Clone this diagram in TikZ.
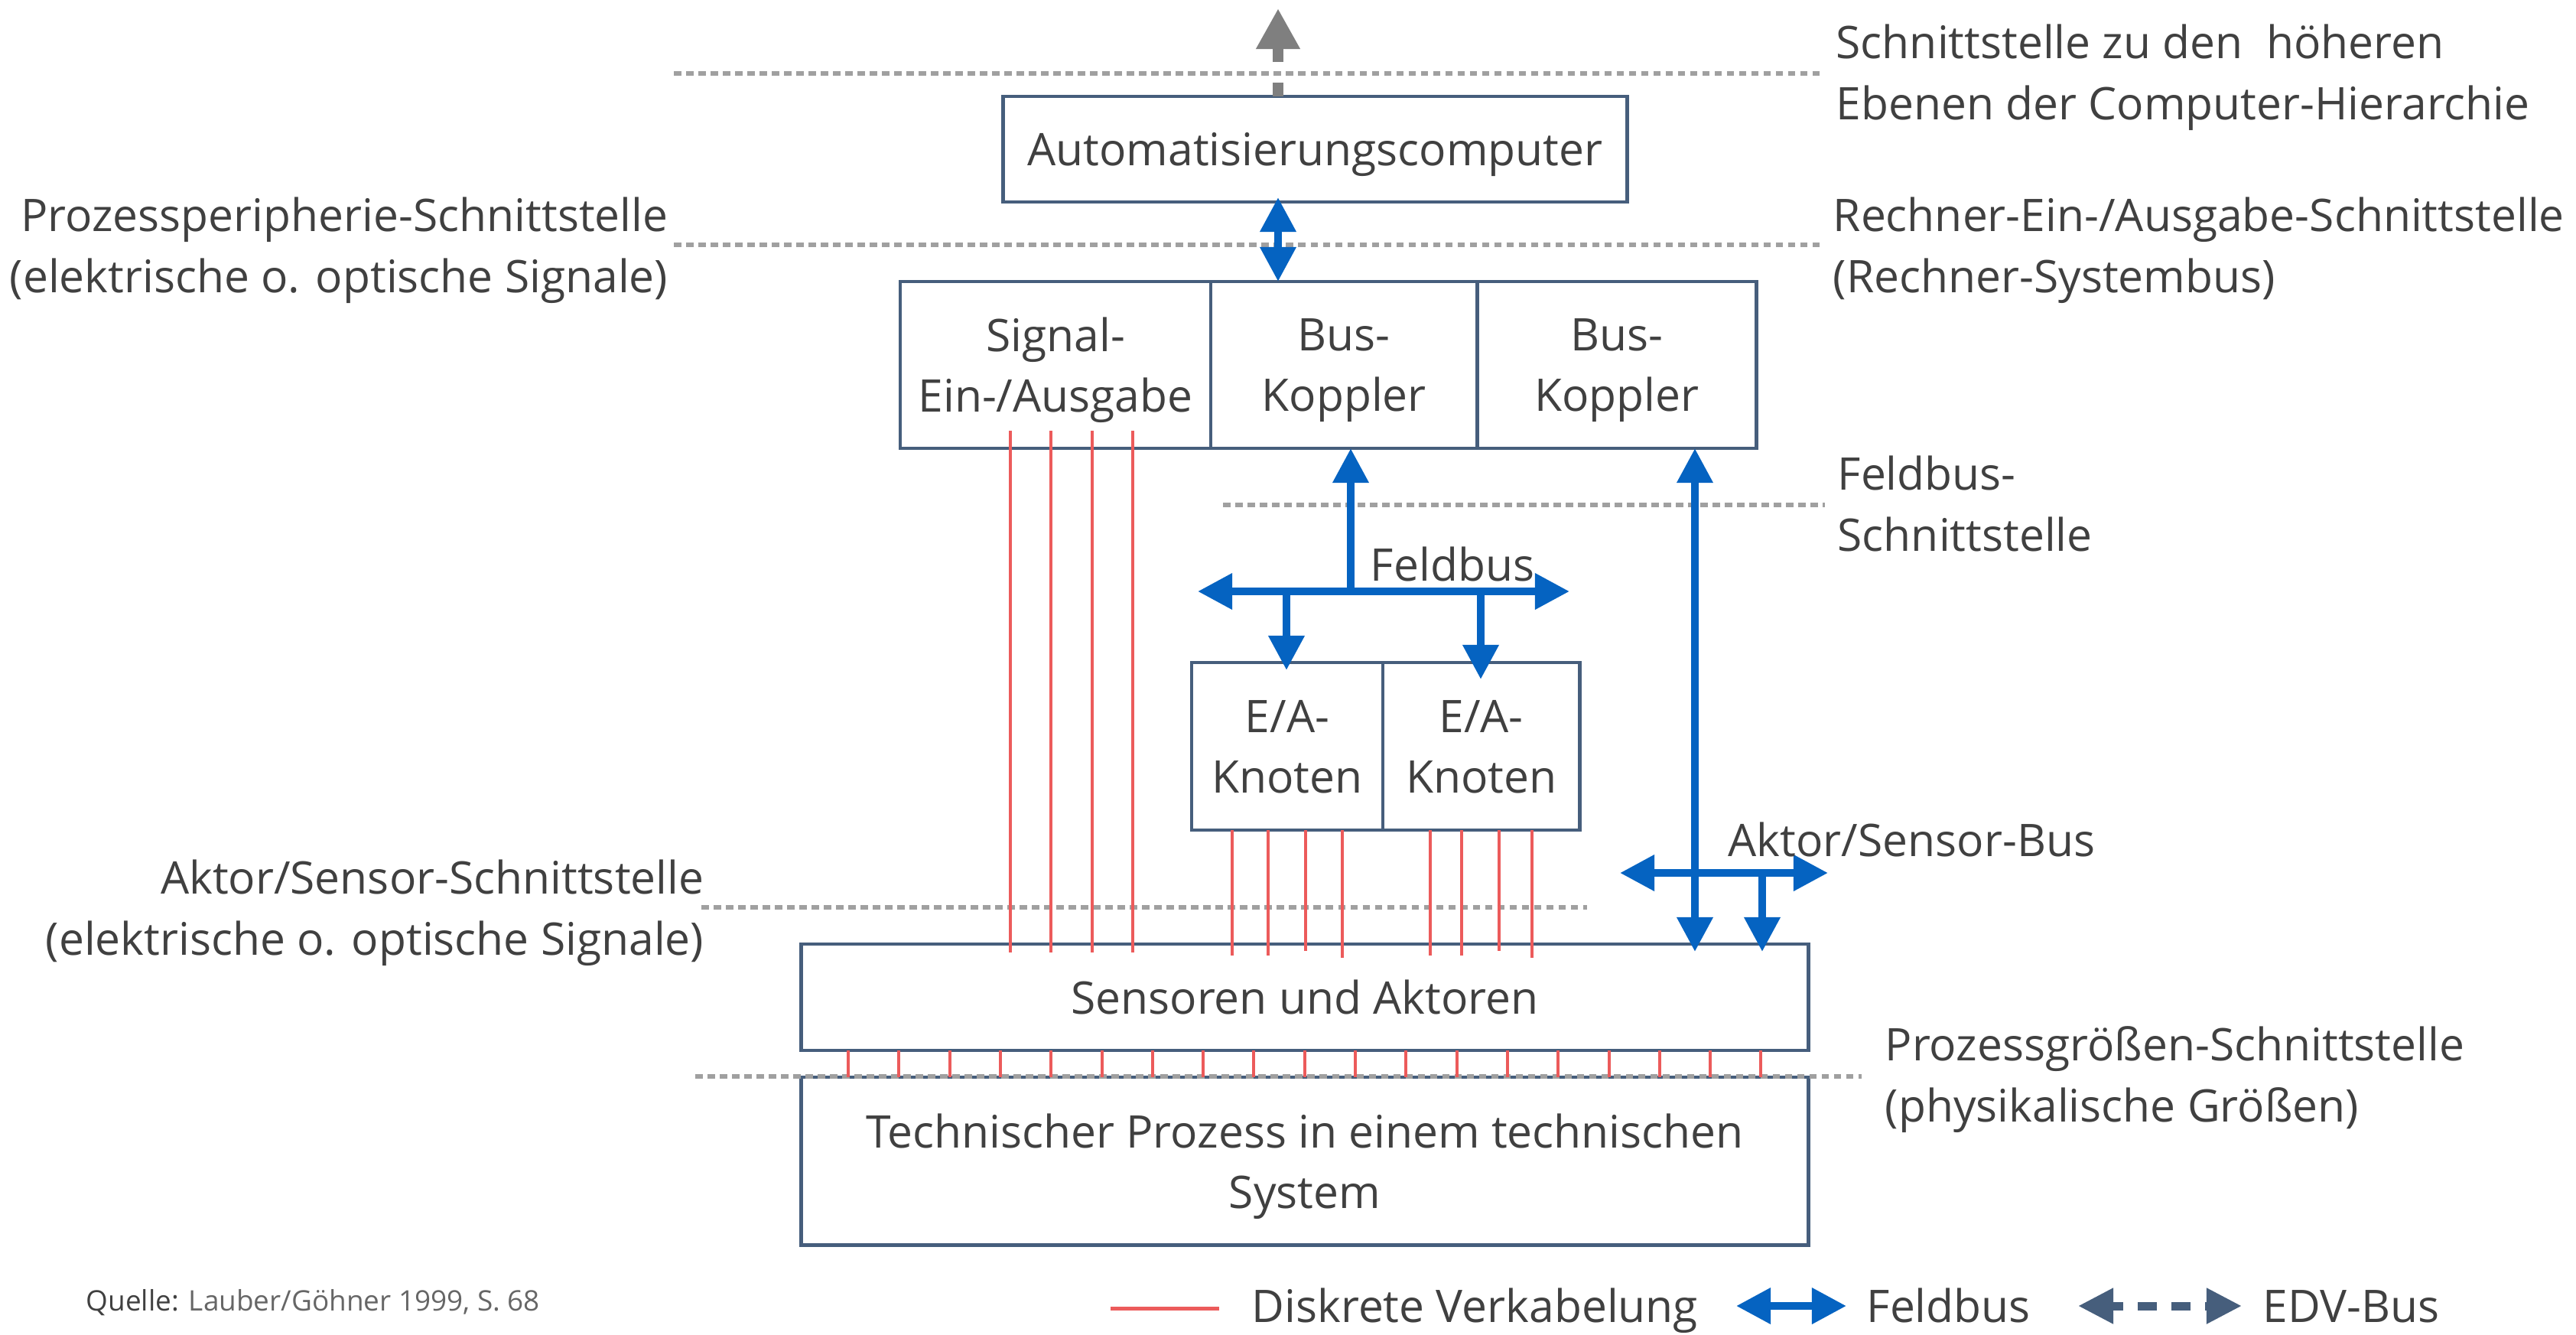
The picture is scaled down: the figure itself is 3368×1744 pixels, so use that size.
\documentclass[tikz,border=0pt]{standalone}
\usepackage{fontspec}
\setmainfont{Open Sans}
\usepackage{xcolor}
\usepackage{tikz}
\usetikzlibrary{positioning,calc,arrows.meta}
\definecolor{rahmen}{HTML}{465E7C}
\definecolor{busblau}{HTML}{0563C1}
\definecolor{kabelrot}{HTML}{EC5B5B}
\definecolor{punktgrau}{HTML}{A0A0A0}
\definecolor{edvgrau}{HTML}{7F7F7F}
\definecolor{schrift}{HTML}{404040}
\definecolor{quellgrau}{HTML}{666666}
\newcommand{\grossschrift}{\fontsize{16.7}{22.5}\selectfont}
\newcommand{\kleinschrift}{\fontsize{10.5}{13}\selectfont}
\tikzset{
  kasten/.style={draw=rahmen, line width=1.3pt, fill=white, text=schrift, font=\grossschrift, align=center, inner sep=0pt, outer sep=0pt, text depth=0pt},
  beschr/.style={text=schrift, font=\grossschrift, inner sep=0pt, align=left},
  ebene/.style={draw=punktgrau, line width=0.065cm, dash pattern=on 0.095cm off 0.065cm},
  kabel/.style={draw=kabelrot, line width=0.04cm},
  feldbus/.style={draw=busblau, line width=0.1cm, >={Triangle[length=0.45cm,width=0.45cm]}},
  edv/.style={draw=edvgrau, line width=0.14cm, >={Triangle[length=0.53cm,width=0.54cm]}, dash pattern=on 0.18cm off 0.27cm on 0.26cm off 0.27cm},
  edvlegende/.style={draw=rahmen, line width=0.11cm, >={Triangle[length=0.46cm,width=0.44cm]}, dash pattern=on 0.25cm off 0.19cm, dash phase=0.09cm}
}

\begin{document}
\begin{tikzpicture}[x=0.01cm, y=-0.01cm]
\useasboundingbox (0,0) rectangle (3368,1744);

% Kaesten
\node[kasten, minimum width=8.15cm, minimum height=1.38cm] (comp) at (1719.5,195) {Automatisierungscomputer};
\node[kasten, minimum width=4.06cm, minimum height=2.18cm] (sig) at (1380,477) {Signal-\\Ein-/Ausgabe};
\node[kasten, minimum width=3.48cm, minimum height=2.18cm, right=0cm of sig] (bk1) {Bus-\\Koppler};
\node[kasten, minimum width=3.65cm, minimum height=2.18cm, right=0cm of bk1] (bk2) {Bus-\\Koppler};
\node[kasten, minimum width=2.50cm, minimum height=2.19cm] (ea1) at (1683,975.5) {E/A-\\Knoten};
\node[kasten, minimum width=2.57cm, minimum height=2.19cm, right=0cm of ea1] (ea2) {E/A-\\Knoten};
\node[kasten, minimum width=13.16cm, minimum height=1.39cm] (sens) at (1706,1303.5) {Sensoren und Aktoren};
\node[kasten, minimum width=13.16cm, minimum height=2.19cm, below=0.35cm of sens] (proz) {Technischer Prozess in einem technischen\\System};

% Schnittstellen
\draw[ebene] (881,96) -- (2384,96);
\draw[ebene] (881,320) -- (2384,320);
\draw[ebene] (1599,660) -- (2386,660);
\draw[ebene] (917,1186) -- (2075,1186);
\draw[ebene] (909,1407) -- (2434,1407);

% diskrete Verkabelung
\foreach \x in {1321,1374,1428,1481}
  \draw[kabel] ($(\x,0 |- sig.south)+(0,-23)$) -- ($(\x,0 |- sens.north)+(0,11)$);
\foreach \x/\e in {1611/15,1658/15,1707/9,1755/18}
  \draw[kabel] (\x,0 |- ea1.south) -- ($(\x,0 |- sens.north)+(0,\e)$);
\foreach \x/\e in {1870/15,1911/15,1960/9,2003/18}
  \draw[kabel] (\x,0 |- ea2.south) -- ($(\x,0 |- sens.north)+(0,\e)$);
\foreach \i in {0,...,18}
  \draw[kabel] (1109+66.3*\i,0 |- sens.south) -- (1109+66.3*\i,0 |- proz.north);

% Busse
\coordinate (oben) at (1671,11);
\draw[edv,->] (oben |- comp.north) -- (oben);
\draw[feldbus,<->] ($(oben |- comp.south)+(0,-6)$) -- (oben |- sig.north);

\coordinate (fbl) at (1566,773);
\coordinate (fbr) at (2052,773);
\draw[feldbus,<->] (fbl) -- (fbr);
\draw[feldbus,->] (1766,0 |- fbl) -- (1766,0 |- bk1.south);
\draw[feldbus,->] (1682,0 |- fbl) -- ($(1682,0 |- ea1.north)+(0,10)$);
\draw[feldbus,->] (1936,0 |- fbl) -- ($(1936,0 |- ea2.north)+(0,22)$);

\coordinate (asl) at (2118,1141);
\coordinate (asr) at (2390,1141);
\draw[feldbus,<->] (asl) -- (asr);
\draw[feldbus,<->] (2216,0 |- bk2.south) -- ($(2216,0 |- sens.north)+(0,10)$);
\draw[feldbus,->] (2304,0 |- asl) -- ($(2304,0 |- sens.north)+(0,10)$);

\node[beschr, anchor=base] (fbtext) at (1899,759) {Feldbus};
\node[beschr, anchor=base west] (astext) at (2259,1119) {Aktor/Sensor-Bus};

% Beschriftung der Schnittstellen (base = letzte Zeile)
\node[beschr, anchor=base west] (hoeher) at (2400,156) {Schnittstelle zu den \ höheren\\Ebenen der Computer-Hierarchie};
\node[beschr, anchor=base west] (rechner) at (2396,382) {Rechner-Ein-/Ausgabe-Schnittstelle\\(Rechner-Systembus)};
\node[beschr, anchor=base east, align=right] (periph) at (874,382) {Prozessperipherie-Schnittstelle\\(elektrische o. optische Signale)};
\node[beschr, anchor=base west] (feldsch) at (2402,720) {Feldbus-\\Schnittstelle};
\node[beschr, anchor=base east, align=right] (aktsch) at (921,1248) {Aktor/Sensor-Schnittstelle\\(elektrische o. optische Signale)};
\node[beschr, anchor=base west] (groessen) at (2464,1466) {Prozessgrößen-Schnittstelle\\(physikalische Größen)};

% Legende
\coordinate (rl) at (1452,1710);
\coordinate (rr) at (1594,1710);
\draw[kabel, line width=0.05cm] (rl) -- (rr);
\node[beschr, anchor=base west] (ldisk) at (1636,1728) {Diskrete Verkabelung};
\coordinate (fl) at (2270,1707);
\coordinate (fr) at (2414,1707);
\draw[feldbus,<->] (fl) -- (fr);
\node[beschr, anchor=base west] (lfeld) at (2440,1728) {Feldbus};
\coordinate (el) at (2717,1707);
\coordinate (er) at (2931,1707);
\draw[edvlegende,<->] (el) -- (er);
\node[beschr, anchor=base west] (ledv) at (2958,1728) {EDV-Bus};

\node[beschr, font=\kleinschrift, anchor=base west] (quelle) at (112,1713) {Quelle: \textcolor{quellgrau}{Lauber/Göhner 1999, S. 68}};
\end{tikzpicture}
\end{document}
